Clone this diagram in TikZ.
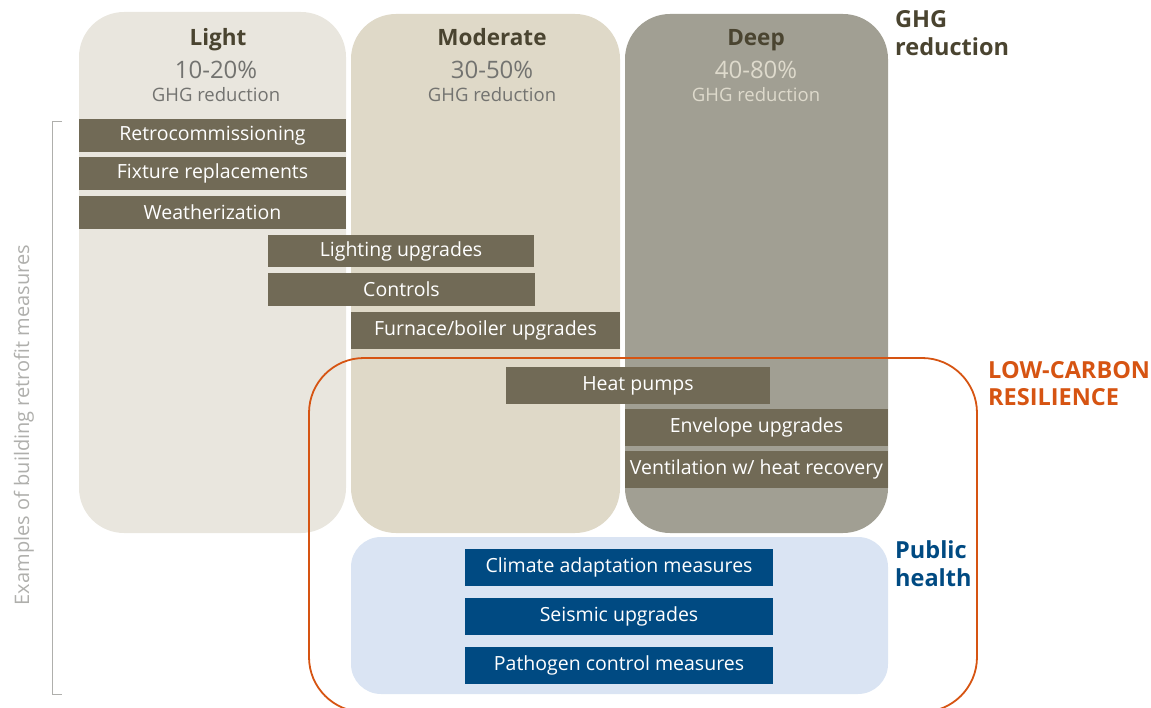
\documentclass[tikz,border=0pt]{standalone}
\usepackage{fontspec}
\setmainfont{Open Sans}
\definecolor{lightcol}{RGB}{233,230,222}
\definecolor{modcol}{RGB}{223,217,200}
\definecolor{deepcol}{RGB}{161,159,147}
\definecolor{measure}{RGB}{113,106,86}
\definecolor{headtxt}{RGB}{74,68,48}
\definecolor{pcttxt}{RGB}{115,115,112}
\definecolor{pcttxtdeep}{RGB}{222,218,204}
\definecolor{healthbg}{RGB}{218,228,243}
\definecolor{healthbox}{RGB}{0,74,130}
\definecolor{resil}{RGB}{214,84,18}
\definecolor{sidegray}{RGB}{175,175,172}
\tikzset{
  measurebox/.style={fill=measure, text=white, inner sep=0pt, font=\fontsize{19.5}{21}\selectfont},
  healthmeas/.style={fill=healthbox, text=white, inner sep=0pt, minimum width=308, minimum height=37, font=\fontsize{19.5}{21}\selectfont},
  levelname/.style={anchor=base, text=headtxt, font=\bfseries\fontsize{22.5}{24}\selectfont},
  levelpct/.style={anchor=base, font=\fontsize{24}{26}\selectfont},
  levelsub/.style={anchor=base, font=\fontsize{18.5}{20}\selectfont},
  sidelabel/.style={anchor=base west, inner sep=0pt, font=\bfseries\fontsize{23.5}{26}\selectfont}
}
\begin{document}
\begin{tikzpicture}[x=1pt,y=-1pt]
		\useasboundingbox (0,0) rectangle (1151,708);
		%Spalten
		\fill[lightcol, rounded corners=45] (79,12) rectangle (346,533);
		\fill[modcol, rounded corners=45] (351,14) rectangle (620,533);
		\fill[deepcol, rounded corners=45] (625,14) rectangle (888,533);
		% Public health Bereich
		\fill[healthbg, rounded corners=30] (351,537) rectangle (888,694);
		% Resilienz Rahmen
		\draw[resil, line width=1.8pt, rounded corners=55] (309,358) rectangle (977,712);
		%Kopfzeilen
		\node[levelname] (light) at (218,46) {Light};
		\node[levelpct, text=pcttxt] (lightpct) at (216,79) {10-20\%};
		\node[levelsub, text=pcttxt] (lightsub) at (216,102) {GHG reduction};
		\node[levelname] (moderate) at (492,46) {Moderate};
		\node[levelpct, text=pcttxt] (modpct) at (492,79) {30-50\%};
		\node[levelsub, text=pcttxt] (modsub) at (492,102) {GHG reduction};
		\node[levelname] (deep) at (756,46) {Deep};
		\node[levelpct, text=pcttxtdeep] (deeppct) at (756,79) {40-80\%};
		\node[levelsub, text=pcttxtdeep] (deepsub) at (756,102) {GHG reduction};
		%Beschriftung rechts
		\node[sidelabel, text=headtxt] (ghg) at (895,28) {GHG};
		\node[sidelabel, text=headtxt] (ghgred) at (895,56) {reduction};
		\node[sidelabel, text=resil] (lowcarbon) at (988,378) {LOW-CARBON};
		\node[sidelabel, text=resil] (resilience) at (988,406) {RESILIENCE};
		\node[sidelabel, text=healthbox] (public) at (895,558) {Public};
		\node[sidelabel, text=healthbox] (health) at (895,586) {health};
		%Klammer links
		\draw[sidegray, thick] (62,121) -- (52,121) -- (52,694) -- (62,694);
		\node[rotate=90, text=sidegray, font=\fontsize{20}{22}\selectfont] (examples) at (24,425) {Examples of building retrofit measures};
		%Massnahmen
		\node[measurebox, minimum width=267, minimum height=33] (retro) at (212.5,135.5) {Retrocommissioning};
		\node[measurebox, minimum width=267, minimum height=33] (fixture) at (212.5,173.5) {Fixture replacements};
		\node[measurebox, minimum width=267, minimum height=33] (weather) at (212.5,212.5) {Weatherization};
		\node[measurebox, minimum width=266, minimum height=32] (lighting) at (401,251) {Lighting upgrades};
		\node[measurebox, minimum width=267, minimum height=33] (controls) at (401.5,289.5) {Controls};
		\node[measurebox, minimum width=269, minimum height=37] (furnace) at (485.5,330.5) {Furnace/boiler upgrades};
		\node[measurebox, minimum width=264, minimum height=37] (heatpumps) at (638,385.5) {Heat pumps};
		\node[measurebox, minimum width=263, minimum height=37] (envelope) at (756.5,427.5) {Envelope upgrades};
		\node[measurebox, minimum width=263, minimum height=37] (ventilation) at (756.5,469.5) {Ventilation w/ heat recovery};
		%Gesundheit
		\node[healthmeas] (climate) at (619,567.5) {Climate adaptation measures};
		\node[healthmeas] (seismic) at (619,616.5) {Seismic upgrades};
		\node[healthmeas] (pathogen) at (619,665.5) {Pathogen control measures};
\end{tikzpicture}
\end{document}
